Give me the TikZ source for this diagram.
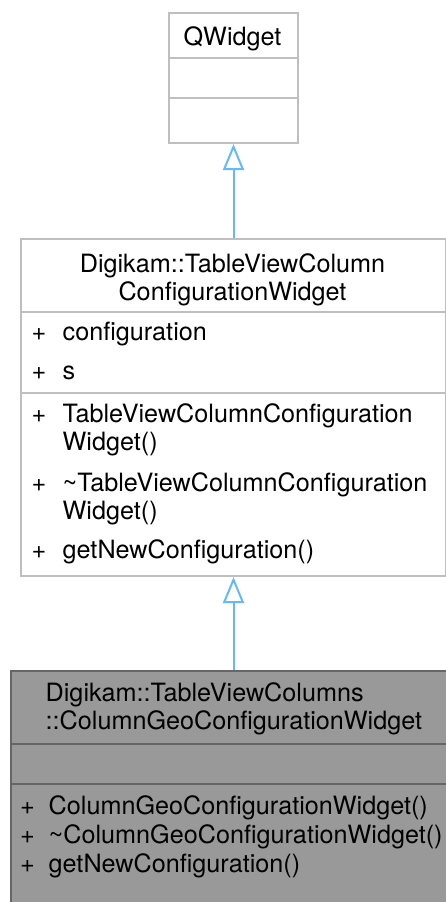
\documentclass[tikz,border=0pt]{standalone}
\usepackage{fontspec}
\setmainfont{TeX Gyre Heros}
\usepackage{tikz}
\usetikzlibrary{arrows.meta,positioning}
\definecolor{boxgray}{RGB}{191,191,191}
\definecolor{curfill}{RGB}{153,153,153}
\definecolor{curdraw}{RGB}{102,102,102}
\definecolor{edgeblue}{RGB}{99,184,255}

\begin{document}
\begin{tikzpicture}[
  x=1pt,y=-1pt,
  classbox/.style={draw=boxgray,line width=2pt,fill=white,inner sep=0pt,anchor=north west},
  current/.style={classbox,draw=curdraw,fill=curfill},
  sepline/.style={draw=boxgray,line width=2pt},
  ctext/.style={inner sep=0pt,anchor=base,font=\fontsize{25.2}{28}\selectfont},
  mtext/.style={ctext,anchor=base west},
  inherit/.style={-{Triangle[open,length=26pt,width=21pt]},draw=edgeblue,line width=2pt}
]
\useasboundingbox (0,0) rectangle (446,902);
\clip (0,0) rectangle (446,902);

% base class
\node[classbox,minimum width=129pt,minimum height=130pt] (qwidget) at (168,12) {};
\draw[sepline] (168,58) -- (297,58);
\draw[sepline] (168,98) -- (297,98);
\node[ctext] (qwname) at (232.5,45) {QWidget};

% TableViewColumnConfigurationWidget
\node[classbox,minimum width=425pt,minimum height=337pt] (tvccw) at (20,238) {};
\draw[sepline] (20,312) -- (445,312);
\draw[sepline] (20,393) -- (445,393);
\node[ctext] (tvname1) at (232.5,272) {Digikam::TableViewColumn};
\node[ctext] (tvname2) at (232.5,300) {ConfigurationWidget};
\node[mtext] (tvp1) at (31.5,340) {+};
\node[mtext] (tva1) at (62.5,340) {configuration};
\node[mtext] (tvp2) at (31.5,379) {+};
\node[mtext] (tva2) at (62.5,379) {s};
\node[mtext] (tvp3) at (31.5,422) {+};
\node[mtext] (tvm1) at (62.5,422) {TableViewColumnConfiguration};
\node[mtext] (tvm1b) at (62.5,450) {Widget()};
\node[mtext] (tvp4) at (31.5,491) {+};
\node[mtext] (tvm2) at (62.5,491) {\textasciitilde TableViewColumnConfiguration};
\node[mtext] (tvm2b) at (62.5,519) {Widget()};
\node[mtext] (tvp5) at (31.5,558) {+};
\node[mtext] (tvm3) at (62.5,558) {getNewConfiguration()};

% ColumnGeoConfigurationWidget
\node[current,minimum width=445pt,minimum height=240pt] (geo) at (10,670) {};
\draw[sepline,draw=curdraw] (10,744) -- (455,744);
\draw[sepline,draw=curdraw] (10,784) -- (455,784);
\node[mtext] (geoname1) at (45.5,701) {Digikam::TableViewColumns};
\node[mtext] (geoname2) at (45.5,729) {::ColumnGeoConfigurationWidget};
\node[mtext] (geop1) at (20,814) {+};
\node[mtext] (geom1) at (48.5,814) {ColumnGeoConfigurationWidget()};
\node[mtext] (geop2) at (20,843) {+};
\node[mtext] (geom2) at (48.5,843) {\textasciitilde ColumnGeoConfigurationWidget()};
\node[mtext] (geop3) at (20,872) {+};
\node[mtext] (geom3) at (48.5,872) {getNewConfiguration()};

\draw[inherit] (tvccw.north) -- (qwidget.south);
\draw[inherit] (geo.north) -- (tvccw.south);
\end{tikzpicture}
\end{document}
